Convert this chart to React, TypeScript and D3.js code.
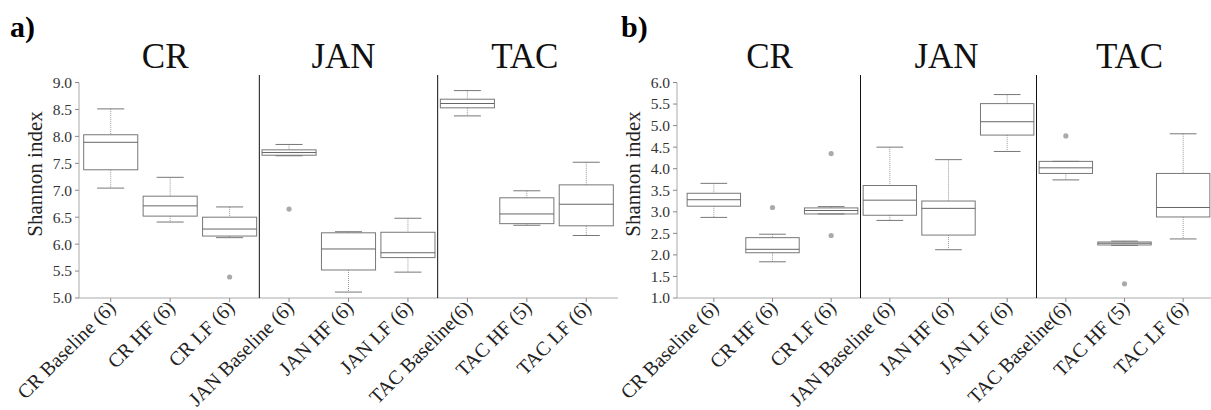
import * as d3 from "d3";
import React from "react";

// category labels (same for both panels)
const categories = [
  "CR Baseline (6)", "CR HF (6)", "CR LF (6)",
  "JAN Baseline (6)", "JAN HF (6)", "JAN LF (6)",
  "TAC Baseline(6)", "TAC HF (5)", "TAC LF (6)",
];
const groups = ["CR", "JAN", "TAC"];

// panel a: Shannon index
const aLow = [7.04, 6.41, 6.12, 7.64, 5.11, 5.48, 8.38, 6.35, 6.16];
const aQ1 = [7.38, 6.52, 6.15, 7.65, 5.52, 5.75, 8.53, 6.38, 6.34];
const aMed = [7.89, 6.71, 6.28, 7.70, 5.91, 5.84, 8.61, 6.56, 6.74];
const aQ3 = [8.03, 6.89, 6.50, 7.75, 6.21, 6.22, 8.69, 6.86, 7.10];
const aHigh = [8.51, 7.24, 6.69, 7.85, 6.23, 6.48, 8.85, 6.99, 7.52];
const aOut = [[], [], [5.39], [6.65], [], [], [], [], []];
const aTicks = [5.0, 5.5, 6.0, 6.5, 7.0, 7.5, 8.0, 8.5, 9.0];

// panel b: Shannon index
const bLow = [2.87, 1.84, 2.95, 2.80, 2.12, 4.40, 3.74, 2.22, 2.37];
const bQ1 = [3.13, 2.05, 2.95, 2.92, 2.46, 4.78, 3.89, 2.23, 2.88];
const bMed = [3.28, 2.13, 3.03, 3.27, 3.08, 5.09, 4.02, 2.27, 3.10];
const bQ3 = [3.43, 2.40, 3.09, 3.61, 3.25, 5.51, 4.17, 2.30, 3.89];
const bHigh = [3.66, 2.48, 3.12, 4.50, 4.21, 5.72, 4.17, 2.32, 4.81];
const bOut = [[], [3.10], [4.35, 2.45], [], [], [], [4.76], [1.33], []];
const bTicks = [1.0, 1.5, 2.0, 2.5, 3.0, 3.5, 4.0, 4.5, 5.0, 5.5, 6.0];

const FONT = "'Liberation Serif', serif";

function Panel({ label, labelX, axisX, xRange, yDomain, ticks, low, q1, med, q3, high, out, titleX }) {
  const top = 82.5;
  const bottom = 298;
  const x = d3.scaleBand().domain(categories).range(xRange).padding(0);
  const y = d3.scaleLinear().domain(yDomain).range([bottom, top]);
  const bw = x.bandwidth() * 0.91;
  const sepIdx = [3, 6];
  return (
    <g>
      <text x={labelX} y={37} fontFamily={FONT} fontWeight="bold" fontSize={30} fill="#000">{label}</text>
      {groups.map((gname, i) => {
        const cx = (x(categories[i * 3]) + x(categories[i * 3 + 2]) + x.bandwidth()) / 2;
        return (
          <text key={gname} x={cx + titleX[i]} y={68} textAnchor="middle" fontFamily={FONT} fontSize={35} fill="#111">{gname}</text>
        );
      })}
      {/* y axis */}
      <line x1={axisX} x2={axisX} y1={top} y2={bottom} stroke="#aaa" />
      {ticks.map((t) => (
        <g key={t}>
          <line x1={axisX - 4} x2={axisX} y1={y(t)} y2={y(t)} stroke="#888" />
          <text x={axisX - 7} y={y(t)} dy="0.35em" textAnchor="end" fontFamily={FONT} fontSize={15.5} fill="#333">{t.toFixed(1)}</text>
        </g>
      ))}
      <text transform={`translate(${axisX - 37},174) rotate(-90)`} textAnchor="middle" fontFamily={FONT} fontSize={21} fill="#222">Shannon index</text>
      {/* x axis */}
      <line x1={axisX} x2={xRange[1] + 2} y1={bottom} y2={bottom} stroke="#aaa" />
      {categories.map((c) => {
        const cx = x(c) + x.bandwidth() / 2;
        return (
          <g key={c}>
            <line x1={cx} x2={cx} y1={bottom} y2={bottom + 4} stroke="#888" />
            <text transform={`translate(${cx + 6},${bottom + 11}) rotate(-45)`} textAnchor="end" fontFamily={FONT} fontSize={20} fill="#222">{c}</text>
          </g>
        );
      })}
      {/* group separators */}
      {sepIdx.map((i) => (
        <line key={i} x1={x(categories[i])} x2={x(categories[i])} y1={75} y2={bottom} stroke="#111" />
      ))}
      {/* boxes */}
      {categories.map((c, i) => {
        const cx = x(c) + x.bandwidth() / 2;
        const cap = bw * 0.5;
        return (
          <g key={c}>
            <line x1={cx} x2={cx} y1={y(high[i])} y2={y(q3[i])} stroke="#999" strokeDasharray="1,1" />
            <line x1={cx} x2={cx} y1={y(q1[i])} y2={y(low[i])} stroke="#999" strokeDasharray="1,1" />
            <line x1={cx - cap / 2} x2={cx + cap / 2} y1={y(high[i])} y2={y(high[i])} stroke="#777" />
            <line x1={cx - cap / 2} x2={cx + cap / 2} y1={y(low[i])} y2={y(low[i])} stroke="#777" />
            <rect x={cx - bw / 2} y={y(q3[i])} width={bw} height={y(q1[i]) - y(q3[i])} fill="none" stroke="#777" />
            <line x1={cx - bw / 2} x2={cx + bw / 2} y1={y(med[i])} y2={y(med[i])} stroke="#666" />
            {out[i].map((o, j) => (
              <circle key={j} cx={cx} cy={y(o)} r={2.6} fill="#aaa" />
            ))}
          </g>
        );
      })}
    </g>
  );
}

export default function App() {
  return (
    <svg width={1211} height={410} style={{ display: "block", position: "absolute", left: 0, top: 0, background: "#fff" }}>
      <Panel label="a)" labelX={10} axisX={79} xRange={[81, 616]} yDomain={[5, 9]} ticks={aTicks}
        low={aLow} q1={aQ1} med={aMed} q3={aQ3} high={aHigh} out={aOut} titleX={[-5, -5, -2]} />
      <Panel label="b)" labelX={621} axisX={677} xRange={[684.5, 1212.5]} yDomain={[1, 6]} ticks={bTicks}
        low={bLow} q1={bQ1} med={bMed} q3={bQ3} high={bHigh} out={bOut} titleX={[-3, -2, 5]} />
    </svg>
  );
}
